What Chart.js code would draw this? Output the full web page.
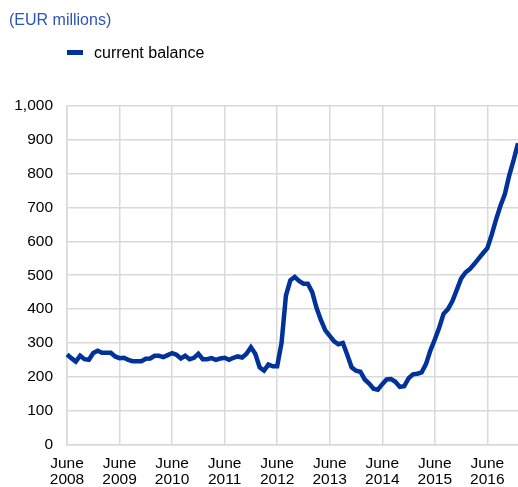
<!DOCTYPE html>
<html>
<head>
<meta charset="utf-8">
<script src="https://cdn.jsdelivr.net/npm/chart.js@4.4.1/dist/chart.umd.min.js"></script>
<style>
  html, body { margin: 0; padding: 0; background: #fff; }
  #wrap { position: relative; width: 518px; height: 487px; }
  #unit { position: absolute; left: 9px; top: 11px; font: 16px "Liberation Sans", Arial, sans-serif; color: #2e54b8; }
  #legend { position: absolute; left: 67px; top: 44px; font: 16px "Liberation Sans", Arial, sans-serif; color: #000; }
  #legend .swatch { display: inline-block; width: 16px; height: 5px; background: #003299; margin-right: 11px; vertical-align: middle; position: relative; top: -1px; }
</style>
</head>
<body>
<div id="wrap">
  <canvas id="chart" width="518" height="487"></canvas>
  <div id="unit">(EUR millions)</div>
  <div id="legend"><span class="swatch"></span>current balance</div>
</div>
<script>
// monthly data, June 2008 .. January 2017
const startYear = 2008;
const startMonth = 5; // June, zero based
const monthNames = ['Jan', 'Feb', 'Mar', 'Apr', 'May', 'June', 'July', 'Aug', 'Sep', 'Oct', 'Nov', 'Dec'];

const currentBalance = [
  266, 255, 245, 262, 252, 250, 270, 277, 271, 271, 271, 260,
  255, 256, 250, 246, 246, 246, 253, 254, 262, 262, 258, 264,
  270, 265, 254, 262, 252, 256, 268, 252, 252, 255, 250, 254,
  256, 250, 256, 260, 257, 268, 287, 268, 228, 218, 236, 231,
  231, 300, 440, 485, 495, 483, 475, 475, 450, 403, 367, 337,
  321, 305, 296, 300, 265, 228, 218, 215, 192, 180, 165, 162,
  178, 192, 193, 185, 170, 172, 195, 207, 209, 213, 238, 278,
  310, 345, 386, 400, 423, 456, 490, 508, 518, 533, 549, 565,
  580, 620, 665, 705, 740, 795, 840, 890
];

const yTicks = [0, 100, 200, 300, 400, 500, 600, 700, 800, 900, 1000];

const months = [];
for (let i = 0; i < currentBalance.length; i++) {
  const m = (startMonth + i) % 12;
  const y = startYear + Math.floor((startMonth + i) / 12);
  months.push(monthNames[m] + ' ' + y);
}

Chart.defaults.font.family = '"Liberation Sans", Arial, sans-serif';
Chart.defaults.font.size = 15.5;
Chart.defaults.color = '#000';

new Chart(document.getElementById('chart').getContext('2d'), {
  type: 'line',
  data: {
    labels: months,
    datasets: [{
      label: 'current balance',
      data: currentBalance,
      borderColor: '#003299',
      borderWidth: 4.5,
      pointRadius: 0,
      tension: 0,
      fill: false
    }]
  },
  options: {
    responsive: false,
    animation: false,
    layout: { padding: { top: 106, right: 0, bottom: -12, left: 0 } },
    plugins: { legend: { display: false }, tooltip: { enabled: false } },
    scales: {
      x: {
        offset: false,
        grid: { color: '#d9d9d9', lineWidth: 1.5, drawTicks: false },
        border: { color: '#d9d9d9', width: 1.5 },
        ticks: {
          autoSkip: false,
          maxRotation: 0,
          padding: 11,
          color: '#000',
          font: { lineHeight: 1.05 },
          callback: function(value, index) {
            const label = months[index];
            if (!label.startsWith('June')) return null;
            return ['June', label.split(' ')[1]];
          }
        }
      },
      y: {
        min: 0,
        max: 1000,
        afterFit: function(scale) { scale.width = 67; },
        afterBuildTicks: function(scale) { scale.ticks = yTicks.map(v => ({ value: v })); },
        grid: { color: '#d9d9d9', lineWidth: 1.5, drawTicks: false },
        border: { color: '#d9d9d9', width: 1.5 },
        ticks: {
          padding: 14,
          color: '#000',
          callback: v => v.toLocaleString('en-US')
        }
      }
    }
  }
});
</script>
</body>
</html>
